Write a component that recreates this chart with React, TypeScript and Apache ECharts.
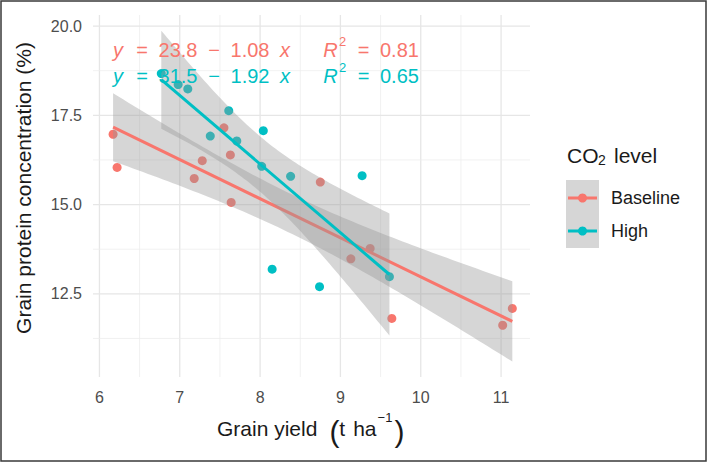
import React, { useEffect, useRef } from "react";
import * as echarts from "echarts";

const RED = "#F8766D";
const TEAL = "#00BFC4";
const BAND_FILL = "rgba(153,153,153,0.4)";

const groups = ["Baseline", "High"];
const baselineX = [6.17, 6.22, 7.18, 7.28, 7.55, 7.63, 7.64, 8.75, 9.13, 9.37, 9.64, 11.02, 11.14];
const baselineY = [16.97, 16.04, 15.73, 16.23, 17.15, 16.39, 15.06, 15.63, 13.48, 13.77, 11.81, 11.62, 12.09];
const highX = [6.77, 6.98, 7.1, 7.38, 7.61, 7.71, 8.02, 8.04, 8.15, 8.38, 8.74, 9.27, 9.61];
const highY = [18.67, 18.36, 18.24, 16.92, 17.63, 16.78, 16.07, 17.07, 13.19, 15.79, 12.7, 15.81, 12.98];

const xTicks = [6, 7, 8, 9, 10, 11];
const xMinor = [6.5, 7.5, 8.5, 9.5, 10.5];
const yTicks = [12.5, 15, 17.5, 20];
const yMinor = [11.25, 13.75, 16.25, 18.75];

const eqIntercept = ["23.8", "31.5"];
const eqSlope = ["1.08", "1.92"];
const eqR2 = ["0.81", "0.65"];

const X_MIN = 5.92;
const X_MAX = 11.36;
const Y_MIN = 10.17;
const Y_MAX = 20.31;
const T975_DF11 = 2.201;

const FONT = "Liberation Sans, Arial, sans-serif";
const INK = "#1a1a1a";

function fit(xs: number[], ys: number[]) {
  const n = xs.length;
  const mx = xs.reduce((s, v) => s + v, 0) / n;
  const my = ys.reduce((s, v) => s + v, 0) / n;
  let sxx = 0, sxy = 0;
  for (let i = 0; i < n; i++) {
    sxx += (xs[i] - mx) ** 2;
    sxy += (xs[i] - mx) * (ys[i] - my);
  }
  const b = sxy / sxx;
  const a = my - b * mx;
  let sse = 0;
  for (let i = 0; i < n; i++) sse += (ys[i] - (a + b * xs[i])) ** 2;
  const s = Math.sqrt(sse / (n - 2));
  const lo = Math.min(...xs), hi = Math.max(...xs);
  const band: number[][] = [];
  const steps = 80;
  for (let k = 0; k <= steps; k++) {
    const x = lo + ((hi - lo) * k) / steps;
    const yh = a + b * x;
    const se = s * Math.sqrt(1 / n + (x - mx) ** 2 / sxx);
    band.push([x, yh - T975_DF11 * se, yh + T975_DF11 * se]);
  }
  return { a, b, lo, hi, band };
}

function bandSeries(band: number[][], z: number) {
  return {
    type: "custom",
    coordinateSystem: "cartesian2d",
    silent: true,
    z,
    data: band.map((p) => [p[0], p[1], p[2]]),
    renderItem: (params: any, api: any) => {
      if (params.dataIndex !== 0) return null;
      const up = band.map((p) => api.coord([p[0], p[2]]));
      const low = band.map((p) => api.coord([p[0], p[1]])).reverse();
      return {
        type: "polygon",
        shape: { points: up.concat(low) },
        style: { fill: BAND_FILL },
      };
    },
  };
}

function eqRich(color: string) {
  const base = { fontSize: 20, fontFamily: FONT, fill: color, lineHeight: 24, height: 24, verticalAlign: "bottom" };
  return {
    iy: { ...base, fontStyle: "italic", width: 16, align: "left" },
    eq: { ...base, width: 26, align: "center" },
    num: { ...base, width: 46, align: "center" },
    op: { ...base, width: 26, align: "center" },
    ix: { ...base, fontStyle: "italic", width: 24, align: "center" },
    gap: { ...base, width: 26 },
    ir: { ...base, fontStyle: "italic", width: 15, align: "left" },
    sup: { ...base, fontSize: 13, width: 9, align: "left", lineHeight: 24, height: 24, padding: [0, 0, 9, 0] },
    eq2: { ...base, width: 33, align: "center" },
    r2: { ...base, align: "left" },
  };
}

export default function App() {
  const ref = useRef<HTMLDivElement>(null);
  useEffect(() => {
    if (!ref.current) return;
    const chart = echarts.init(ref.current, undefined, { renderer: "svg" });
    const fB = fit(baselineX, baselineY);
    const fH = fit(highX, highY);

    const gridData: number[][] = [
      ...xTicks.map((v) => [0, v, 1]),
      ...xMinor.map((v) => [0, v, 0]),
      ...yTicks.map((v) => [1, v, 1]),
      ...yMinor.map((v) => [1, v, 0]),
    ];

    const eqText = [0, 1].map(
      (i) =>
        `{iy|y}{eq|=}{num|${eqIntercept[i]}}{op|\u2212}{num|${eqSlope[i]}}{ix|x}{gap| }{ir|R}{sup|2}{eq2|=}{r2|${eqR2[i]}}`
    );

    const option: any = {
      animation: false,
      backgroundColor: "#ffffff",
      grid: { left: 93, right: 178, top: 15, bottom: 87, containLabel: false },
      xAxis: {
        type: "value",
        min: X_MIN,
        max: X_MAX,
        axisLine: { show: false },
        axisTick: { show: false },
        splitLine: { show: false },
        axisLabel: {
          customValues: xTicks,
          color: "#4d4d4d",
          fontSize: 16,
          fontFamily: FONT,
          margin: 12,
          formatter: (v: number) => String(v),
        },
      },
      yAxis: {
        type: "value",
        min: Y_MIN,
        max: Y_MAX,
        axisLine: { show: false },
        axisTick: { show: false },
        splitLine: { show: false },
        axisLabel: {
          customValues: yTicks,
          color: "#4d4d4d",
          fontSize: 16,
          fontFamily: FONT,
          margin: 11,
          formatter: (v: number) => v.toFixed(1),
        },
      },
      series: [
        {
          type: "custom",
          coordinateSystem: "cartesian2d",
          silent: true,
          z: 1,
          data: gridData,
          renderItem: (params: any, api: any) => {
            const kind = api.value(0);
            const v = api.value(1);
            const major = api.value(2) === 1;
            const p1 = kind === 0 ? api.coord([v, Y_MIN]) : api.coord([X_MIN, v]);
            const p2 = kind === 0 ? api.coord([v, Y_MAX]) : api.coord([X_MAX, v]);
            return {
              type: "line",
              shape: { x1: p1[0], y1: p1[1], x2: p2[0], y2: p2[1] },
              style: { stroke: major ? "#e6e6e6" : "#eeeeee", lineWidth: major ? 1.3 : 0.8 },
            };
          },
        },
        {
          name: groups[0],
          type: "scatter",
          z: 2,
          symbolSize: 9,
          itemStyle: { color: RED, opacity: 1 },
          data: baselineX.map((x, i) => [x, baselineY[i]]),
        },
        {
          name: groups[1],
          type: "scatter",
          z: 2,
          symbolSize: 9,
          itemStyle: { color: TEAL, opacity: 1 },
          data: highX.map((x, i) => [x, highY[i]]),
        },
        bandSeries(fB.band, 3),
        {
          type: "line",
          z: 4,
          symbol: "none",
          silent: true,
          lineStyle: { color: RED, width: 3 },
          data: [
            [fB.lo, fB.a + fB.b * fB.lo],
            [fB.hi, fB.a + fB.b * fB.hi],
          ],
        },
        bandSeries(fH.band, 5),
        {
          type: "line",
          z: 6,
          symbol: "none",
          silent: true,
          lineStyle: { color: TEAL, width: 3 },
          data: [
            [fH.lo, fH.a + fH.b * fH.lo],
            [fH.hi, fH.a + fH.b * fH.hi],
          ],
        },
      ],
      graphic: [
        {
          type: "rect",
          silent: true,
          z: 100,
          shape: { x: 1, y: 1, width: 705, height: 460 },
          style: { fill: "none", stroke: "#3a3a3a", lineWidth: 1.5 },
        },
        {
          type: "text",
          z: 50,
          x: 113,
          y: 50,
          style: { text: eqText[0], rich: eqRich(RED), verticalAlign: "middle", align: "left" },
        },
        {
          type: "text",
          z: 50,
          x: 113,
          y: 76,
          style: { text: eqText[1], rich: eqRich(TEAL), verticalAlign: "middle", align: "left" },
        },
        {
          type: "text",
          z: 50,
          x: 23,
          y: 188,
          rotation: Math.PI / 2,
          style: {
            text: "Grain protein concentration (%)",
            fontSize: 21,
            fontFamily: FONT,
            fill: INK,
            align: "center",
            verticalAlign: "middle",
          },
        },
        {
          type: "text",
          z: 50,
          x: 217,
          y: 431,
          style: {
            text: "{t|Grain yield}{s| }{p|(}{t|t}{s2| }{t|ha}{sup|\u22121}{p|)}",
            align: "left",
            verticalAlign: "middle",
            rich: {
              t: { fontSize: 21, fontFamily: FONT, fill: INK, lineHeight: 30, height: 30, verticalAlign: "bottom", padding: [0, 0, 3, 0] },
              s: { fontSize: 21, fontFamily: FONT, width: 12 },
              s2: { fontSize: 21, fontFamily: FONT, width: 8 },
              p: { fontSize: 30, fontFamily: FONT, fill: INK, lineHeight: 30, height: 30, verticalAlign: "bottom" },
              sup: { fontSize: 13, fontFamily: FONT, fill: INK, lineHeight: 30, height: 30, verticalAlign: "bottom", padding: [0, 2, 14, 1] },
            },
          },
        },
        {
          type: "text",
          z: 50,
          x: 567,
          y: 155,
          style: { text: "CO", fontSize: 21, fontFamily: FONT, fill: INK, verticalAlign: "middle" },
        },
        {
          type: "text",
          z: 50,
          x: 598,
          y: 160,
          style: { text: "2", fontSize: 14, fontFamily: FONT, fill: INK, verticalAlign: "middle" },
        },
        {
          type: "text",
          z: 50,
          x: 614,
          y: 155,
          style: { text: "level", fontSize: 21, fontFamily: FONT, fill: INK, verticalAlign: "middle" },
        },
        {
          type: "rect",
          z: 50,
          shape: { x: 566, y: 180, width: 33, height: 68 },
          style: { fill: "#d6d6d6" },
        },
        {
          type: "line",
          z: 51,
          shape: { x1: 568, y1: 198, x2: 597, y2: 198 },
          style: { stroke: RED, lineWidth: 3 },
        },
        { type: "circle", z: 52, shape: { cx: 582.5, cy: 198, r: 4.5 }, style: { fill: RED } },
        {
          type: "line",
          z: 51,
          shape: { x1: 568, y1: 231, x2: 597, y2: 231 },
          style: { stroke: TEAL, lineWidth: 3 },
        },
        { type: "circle", z: 52, shape: { cx: 582.5, cy: 231, r: 4.5 }, style: { fill: TEAL } },
        {
          type: "text",
          z: 50,
          x: 611,
          y: 198,
          style: { text: groups[0], fontSize: 18, fontFamily: FONT, fill: INK, verticalAlign: "middle" },
        },
        {
          type: "text",
          z: 50,
          x: 611,
          y: 231,
          style: { text: groups[1], fontSize: 18, fontFamily: FONT, fill: INK, verticalAlign: "middle" },
        },
      ],
    };
    chart.setOption(option);
    return () => chart.dispose();
  }, []);
  return (
    <div
      ref={ref}
      style={{ position: "fixed", left: 0, top: 0, width: 708, height: 464, background: "#fff" }}
    />
  );
}
